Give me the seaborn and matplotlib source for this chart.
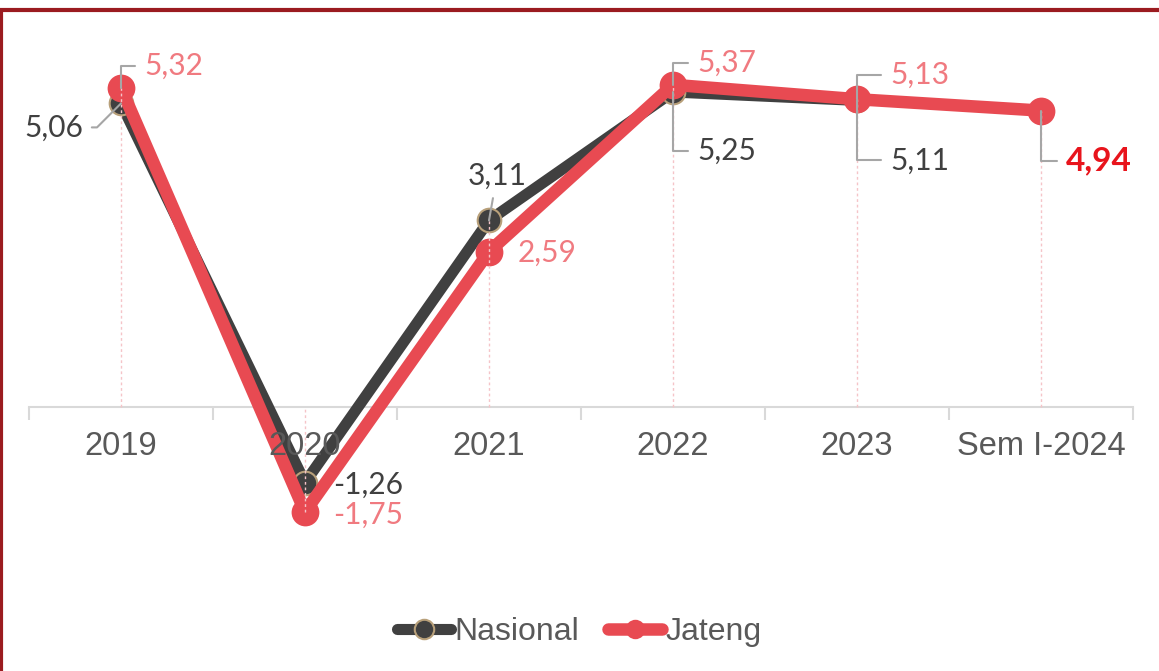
import numpy as np
import pandas as pd
import matplotlib
matplotlib.use('Agg')
import matplotlib.pyplot as plt
import seaborn as sns
from matplotlib.lines import Line2D

# Data
periods = ['2019', '2020', '2021', '2022', '2023', 'Sem I-2024']
nasional = [5.06, -1.26, 3.11, 5.25, 5.11, np.nan]
jateng = [5.32, -1.75, 2.59, 5.37, 5.13, 4.94]

# Colours
c_nas = '#404040'
c_nas_edge = '#b8a07a'
c_jat = '#e84a52'
c_jat_lbl = '#f07a80'
c_lead = '#a6a6a6'

sns.set_theme(style='white')
plt.rcParams['font.family'] = ['Liberation Sans', 'DejaVu Sans']

fig = plt.figure(figsize=(11.59, 6.71), dpi=100)
ax = fig.add_axes([29 / 1159, (671 - 557) / 671, 1104 / 1159, 510 / 671])

df = pd.DataFrame({'x': np.arange(len(periods)), 'Nasional': nasional, 'Jateng': jateng})

# drop lines
for i, (n, j) in enumerate(zip(nasional, jateng)):
    vals = [v for v in (n, j) if not np.isnan(v)]
    lo, hi = min(vals + [0]), max(vals + [0])
    ax.plot([i, i], [lo, hi], color='#f5c4c8', lw=1, ls=(0, (2, 2)), zorder=6)

sns.lineplot(data=df, x='x', y='Nasional', ax=ax, color=c_nas, lw=8,
             marker='o', markersize=17, markerfacecolor=c_nas,
             markeredgecolor=c_nas_edge, markeredgewidth=1.5, zorder=3,
             solid_capstyle='round')
sns.lineplot(data=df, x='x', y='Jateng', ax=ax, color=c_jat, lw=9,
             marker='o', markersize=20, markerfacecolor=c_jat,
             markeredgecolor=c_jat, markeredgewidth=0, zorder=4,
             solid_capstyle='round')

ax.set_xlim(-0.5, len(periods) - 0.5)
ax.set_ylim(-2.5, 6.0)
ax.set_xlabel('')
ax.set_ylabel('')
ax.set_yticks([])
for s in ['top', 'right', 'left']:
    ax.spines[s].set_visible(False)
ax.spines['bottom'].set_position(('data', 0))
ax.spines['bottom'].set_color('#d9d9d9')
ax.spines['bottom'].set_linewidth(1.5)
ax.set_xticks(np.arange(-0.5, len(periods)), minor=False)
ax.set_xticklabels([])
ax.tick_params(axis='x', which='major', direction='out', length=9, width=1.5,
               color='#d9d9d9', bottom=True)
ax.set_xticks(np.arange(len(periods)), minor=True)
ax.set_xticklabels(periods, minor=True)
ax.tick_params(axis='x', which='minor', length=0, pad=17, labelsize=23.5,
               labelcolor='#595959')
ax.xaxis.set_zorder(5)

lab_font = ['Lato', 'DejaVu Sans']


def label(i, v, dx, dy, color, ha='left', weight='normal', size=21.5, conn=None, relx=0.0):
    txt = f'{v:.2f}'.replace('.', ',')
    kw = {}
    if conn is not None:
        kw['arrowprops'] = dict(arrowstyle='-', color=c_lead, lw=1.5,
                                connectionstyle=conn, relpos=(relx, 0.5),
                                shrinkA=4, shrinkB=0)
    ax.annotate(txt, xy=(i, v), xytext=(dx, dy), textcoords='offset pixels',
                ha=ha, va='center', color=color, fontsize=size,
                fontweight=weight, family=lab_font, zorder=10, **kw)


# Nasional labels
label(0, nasional[0], -38, -24, c_nas, ha='right', conn='angle,angleA=0,angleB=45', relx=1.0)
label(1, nasional[1], 28, -2, c_nas)
label(2, nasional[2], 8, 45, c_nas, ha='center', conn='arc3', relx=0.5)
label(3, nasional[3], 24, -59, c_nas, conn='angle,angleA=0,angleB=90')
label(4, nasional[4], 33, -60, c_nas, conn='angle,angleA=0,angleB=90')

# Jateng labels
label(0, jateng[0], 23, 22, c_jat_lbl, conn='angle,angleA=0,angleB=90')
label(1, jateng[1], 28, -3, c_jat_lbl)
label(2, jateng[2], 29, -1, c_jat_lbl)
label(3, jateng[3], 24, 22, c_jat_lbl, conn='angle,angleA=0,angleB=90')
label(4, jateng[4], 33, 24, c_jat_lbl, conn='angle,angleA=0,angleB=90')
label(5, jateng[5], 25, -50, '#e8141c', weight='bold', size=24,
      conn='angle,angleA=0,angleB=90')

# legend
handles = [
    Line2D([], [], color=c_nas, lw=8, marker='o', markersize=14,
           markerfacecolor=c_nas, markeredgecolor=c_nas_edge, markeredgewidth=1.5,
           solid_capstyle='round'),
    Line2D([], [], color=c_jat, lw=9, marker='o', markersize=14,
           markerfacecolor=c_jat, markeredgewidth=0, solid_capstyle='round'),
]
leg = fig.legend(handles, ['Nasional', 'Jateng'], loc='center',
                 bbox_to_anchor=(0.5, 1 - 632 / 671), ncol=2, frameon=False,
                 fontsize=23, handlelength=1.7, handletextpad=0.1,
                 columnspacing=0.9)
for t in leg.get_texts():
    t.set_color('#595959')

# frame border (top and left)
fig.add_artist(Line2D([0, 1], [1 - 10 / 671, 1 - 10 / 671], color='#9b1b20', lw=3,
                      transform=fig.transFigure))
fig.add_artist(Line2D([1 / 1159, 1 / 1159], [0, 1 - 10 / 671], color='#9b1b20', lw=3,
                      transform=fig.transFigure))

fig.savefig('out.png', dpi=100, facecolor='white')
